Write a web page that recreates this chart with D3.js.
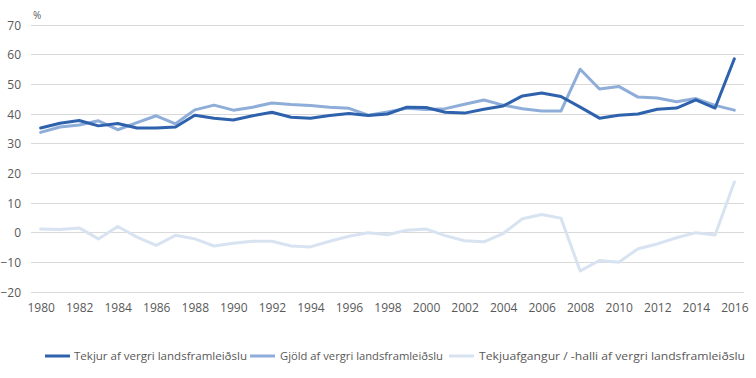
<!DOCTYPE html>
<html><head><meta charset="utf-8">
<script src="https://cdn.jsdelivr.net/npm/d3@7"></script>
<style>body{margin:0;background:#fff}svg{display:block}text{font-family:"Open Sans","Liberation Sans",sans-serif}</style>
</head><body><svg id="c" width="756" height="378"></svg>
<script>
const years = d3.range(1980, 2017);
const tekjur = [35.3,36.9,37.8,36.0,36.8,35.3,35.3,35.6,39.6,38.6,38.0,39.4,40.6,38.9,38.6,39.5,40.2,39.5,40.0,42.3,42.2,40.6,40.3,41.6,42.7,46.1,47.1,45.9,42.3,38.6,39.6,40.0,41.6,42.0,44.8,42.0,58.6];
const gjold = [33.8,35.6,36.3,37.7,34.7,37.1,39.4,36.7,41.4,43.0,41.3,42.3,43.7,43.2,42.9,42.3,41.9,39.6,40.7,41.9,41.5,41.8,43.3,44.7,43.0,41.8,41.0,41.0,55.1,48.4,49.3,45.7,45.4,44.1,45.2,42.9,41.3];
const afgangur = [1.2,1.1,1.6,-2.1,2.1,-1.5,-4.3,-0.9,-2.1,-4.5,-3.6,-2.9,-2.9,-4.5,-4.8,-2.9,-1.2,0.0,-0.7,0.8,1.2,-1.0,-2.7,-3.1,-0.3,4.7,6.1,4.9,-12.9,-9.4,-10.0,-5.4,-3.8,-1.7,0.0,-0.8,17.1];
const yTicks = [-20,-10,0,10,20,30,40,50,60,70];
const xTickLabels = d3.range(1980, 2017, 2);
const seriesNames = ["Tekjur af vergri landsframleiðslu","Gjöld af vergri landsframleiðslu","Tekjuafgangur / -halli af vergri landsframleiðslu"];
const colors = ["#2e62ad","#8eadd8","#d8e3f2"];

const svg = d3.select("#c");
const L = 31, R = 744, T = 25, B = 292;
const x = d3.scalePoint().domain(years).range([L, R]).padding(0.5);
const y = d3.scaleLinear().domain([-20, 70]).range([B, T]);

// gridlines
svg.append("g").selectAll("line").data(yTicks).join("line")
  .attr("x1", L).attr("x2", R).attr("y1", d => y(d)).attr("y2", d => y(d))
  .attr("stroke", "#d9d9d9").attr("stroke-width", 1).attr("shape-rendering","crispEdges");

// y axis labels
const yAxis = d3.axisLeft(y).tickValues(yTicks).tickSize(0).tickPadding(0);
const ga = svg.append("g").attr("transform", `translate(${L-10},0)`).call(yAxis);
ga.select(".domain").remove();
ga.selectAll("text").attr("fill", "#595959").style("font-size", "12px").attr("dy","0.35em");

svg.append("text").attr("x", 33).attr("y", 19).text("%").attr("fill", "#595959").style("font-size", "10px");

// x axis labels
const xAxis = d3.axisBottom(x).tickValues(xTickLabels).tickSize(0).tickPadding(0);
const gx = svg.append("g").attr("transform", `translate(0,${B+11})`).call(xAxis);
gx.select(".domain").remove();
gx.selectAll("text").attr("fill", "#595959").style("font-size", "12px").attr("dy","0.75em");

// lines
const line = d3.line().x((d, i) => x(years[i])).y(d => y(d));
[afgangur, gjold, tekjur].forEach((s, k) => {
  const idx = 2 - k;
  svg.append("path").datum(s).attr("d", line).attr("fill", "none")
    .attr("stroke", colors[idx]).attr("stroke-width", 3)
    .attr("stroke-linejoin", "round").attr("stroke-linecap", "round");
});

// legend
const legendPos = [{lx:45, tx:74, tw:173},{lx:250, tx:280, tw:163},{lx:449, tx:479, tw:266}];
const ly = 356;
seriesNames.forEach((n, i) => {
  const p = legendPos[i];
  svg.append("line").attr("x1", p.lx).attr("x2", p.lx + 25).attr("y1", ly).attr("y2", ly)
    .attr("stroke", colors[i]).attr("stroke-width", 3);
  svg.append("text").attr("x", p.tx).attr("y", ly).attr("dy", "0.35em").text(n)
    .attr("fill", "#595959").style("font-size", "11px")
    .attr("textLength", p.tw).attr("lengthAdjust", "spacingAndGlyphs");
});
</script></body></html>
